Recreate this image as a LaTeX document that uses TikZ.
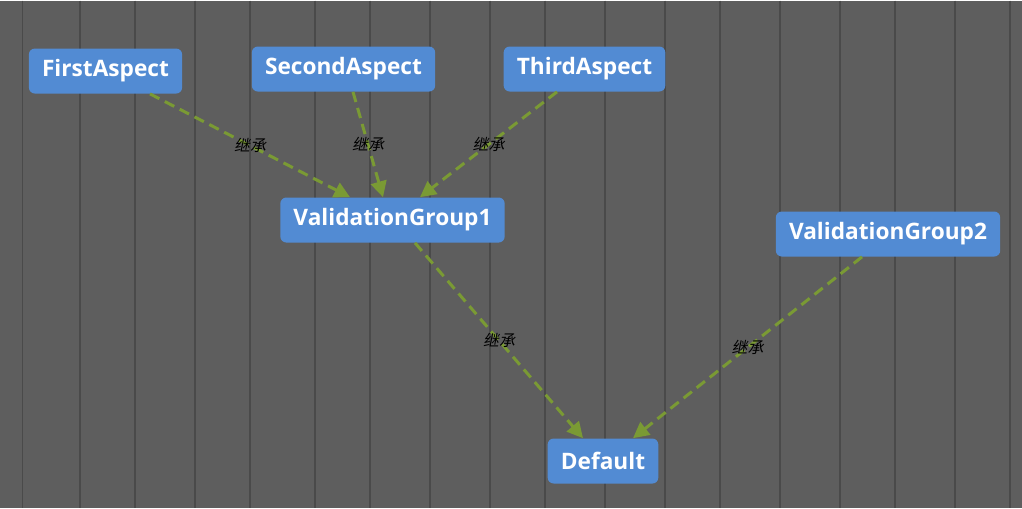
\documentclass[tikz,border=0pt]{standalone}
\usepackage{fontspec}
\usepackage{tikz}
\usetikzlibrary{arrows.meta}
\setmainfont{Open Sans}
\newfontfamily\cjk[FakeSlant=0.2]{Noto Sans CJK SC}

\definecolor{boxblue}{RGB}{82,139,211}
\definecolor{linkgreen}{RGB}{122,154,52}
\definecolor{wood}{RGB}{94,94,94}
\definecolor{woodline}{RGB}{74,74,74}

\begin{document}
\begin{tikzpicture}[
		box/.style={rectangle,rounded corners=0.12cm,fill=boxblue,text=white,
			font=\fontsize{12.9}{15}\selectfont\bfseries,inner xsep=7.5pt,minimum height=0.9cm},
		inh/.style={draw=linkgreen,line width=1.7pt,dash pattern=on 6pt off 3.5pt,
			-{Triangle[length=9pt,width=9pt]}},
		lbl/.style={font=\cjk\fontsize{9}{10}\selectfont,text=black,inner sep=1pt}]
		% background
		\fill[wood] (0,0) rectangle (20.44,-10.14);
		\foreach \x in {0.45,1.6,2.7,3.9,5.0,6.3,7.4,8.6,9.8,10.9,12.1,13.3,14.4,15.6,16.8,17.9,19.1,20.2}
			\draw[woodline,line width=0.6pt] (\x,0) -- (\x,-10.14);
		\useasboundingbox (0,0) rectangle (20.44,-10.14);

		\node[box] (first)  at (2.11,-1.41)  {FirstAspect};
		\node[box] (second) at (6.87,-1.37)  {SecondAspect};
		\node[box] (third)  at (11.69,-1.37) {ThirdAspect};
		\node[box] (vg1)    at (7.85,-4.39)  {ValidationGroup1};
		\node[box] (vg2)    at (17.76,-4.67) {ValidationGroup2};
		\node[box] (def)    at (12.06,-9.21) {Default};

		\draw[inh] ([xshift=0.89cm]first.south)  -- node[lbl]{继承} ([xshift=-0.85cm]vg1.north);
		\draw[inh] ([xshift=0.19cm]second.south) -- node[lbl]{继承} ([xshift=-0.19cm]vg1.north);
		\draw[inh] ([xshift=-0.55cm]third.south) -- node[lbl]{继承} ([xshift=0.55cm]vg1.north);
		\draw[inh] ([xshift=0.45cm]vg1.south)    -- node[lbl]{继承} ([xshift=-0.4cm]def.north);
		\draw[inh] ([xshift=-0.52cm]vg2.south)   -- node[lbl]{继承} ([xshift=0.6cm]def.north);
\end{tikzpicture}
\end{document}
